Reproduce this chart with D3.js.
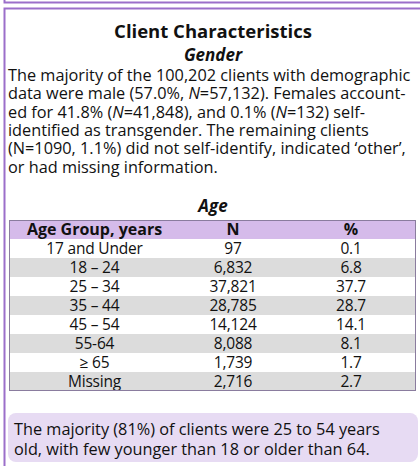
<!DOCTYPE html>
<html lang="en">
  <head>
    <meta charset="utf-8" />
    <title>Client Characteristics</title>
    <script src="https://d3js.org/d3.v7.min.js"></script>
    <style>
      body { margin: 0; background: #fff; }
      svg text { font-family: "Open Sans", "Noto Sans", sans-serif; fill: #111; }
    </style>
  </head>
  <body>
    <script>
      // values
      var title = "Client Characteristics";
      var genderHeading = "Gender";
      var ageHeading = "Age";

      // each line is a list of [text, italic?] pieces
      var genderLines = [
        [["The majority of the 100,202 clients with demographic", false]],
        [["data were male (57.0%, ", false], ["N", true], ["=57,132). Females account-", false]],
        [["ed for 41.8% (", false], ["N", true], ["=41,848), and 0.1% (", false], ["N", true], ["=132) self-", false]],
        [["identified as transgender. The remaining clients", false]],
        [["(N=1090, 1.1%) did not self-identify, indicated \u2018other\u2019,", false]],
        [["or had missing information.", false]]
      ];

      var columns = ["Age Group, years", "N", "%"];
      var ageGroups = ["17 and Under", "18 \u2013 24", "25 \u2013 34", "35 \u2013 44", "45 \u2013 54", "55-64", "\u2265 65", "Missing"];
      var counts = [97, 6832, 37821, 28785, 14124, 8088, 1739, 2716];
      var percents = [0.1, 6.8, 37.7, 28.7, 14.1, 8.1, 1.7, 2.7];

      var calloutLines = [
        "The majority (81%) of clients were 25 to 54 years",
        "old, with few younger than 18 or older than 64."
      ];

      var width = 420;
      var height = 466;
      var purple = "#9b6fca";
      var headerFill = "#d5bbea";
      var stripeFill = "#dcdcdc";
      var calloutFill = "#e7dbf3";

      var svg = d3.select("body")
        .append("svg")
        .attr("width", width)
        .attr("height", height);

      // bottom of the box above
      svg.append("path")
        .attr("d", "M4.5,0 V2.5 H" + (width + 5))
        .attr("fill", "none")
        .attr("stroke", purple)
        .attr("stroke-width", 2);

      // box of this panel (runs off right and bottom)
      svg.append("rect")
        .attr("x", 4.5)
        .attr("y", 8.5)
        .attr("width", width + 20)
        .attr("height", height + 20)
        .attr("fill", "none")
        .attr("stroke", purple)
        .attr("stroke-width", 2);

      var cx = 213;

      svg.append("text")
        .attr("x", cx)
        .attr("y", 38)
        .attr("text-anchor", "middle")
        .style("font-size", "18.5px")
        .style("font-weight", "700")
        .text(title);

      svg.append("text")
        .attr("x", cx)
        .attr("y", 61)
        .attr("text-anchor", "middle")
        .style("font-size", "17px")
        .style("font-weight", "700")
        .style("font-style", "italic")
        .text(genderHeading);

      var lineY = d3.scaleLinear().domain([0, 1]).range([81, 99.3]);

      var para = svg.append("g").style("font-size", "16.3px");
      genderLines.forEach(function (pieces, i) {
        var t = para.append("text").attr("x", 8).attr("y", lineY(i));
        pieces.forEach(function (p) {
          t.append("tspan").style("font-style", p[1] ? "italic" : null).text(p[0]);
        });
      });

      svg.append("text")
        .attr("x", cx)
        .attr("y", 212)
        .attr("text-anchor", "middle")
        .style("font-size", "17px")
        .style("font-weight", "700")
        .style("font-style", "italic")
        .text(ageHeading);

      // table
      var rows = ["header"].concat(ageGroups);
      var y = d3.scaleBand().domain(rows).range([220, 391]);
      var colEdge = d3.scaleLinear().domain([0, 1, 2, 3]).range([9, 180, 286, 416]);
      var colMid = function (j) { return (colEdge(j) + colEdge(j + 1)) / 2; };
      var fmtN = d3.format(",");
      var fmtP = d3.format(".1f");

      var table = svg.append("g");

      table.selectAll("rect.row")
        .data(rows)
        .join("rect")
        .attr("class", "row")
        .attr("x", colEdge(0))
        .attr("y", function (d) { return y(d); })
        .attr("width", colEdge(3) - colEdge(0))
        .attr("height", y.bandwidth())
        .attr("fill", function (d, i) {
          if (i === 0) return headerFill;
          return i % 2 === 0 ? stripeFill : "#fff";
        });

      table.append("g")
        .selectAll("text")
        .data(columns)
        .join("text")
        .attr("x", function (d, j) { return colMid(j); })
        .attr("y", y("header") + y.bandwidth() / 2)
        .attr("dy", "0.36em")
        .attr("text-anchor", "middle")
        .style("font-size", "16px")
        .style("font-weight", "700")
        .text(function (d) { return d; });

      var cells = ageGroups.map(function (g, i) {
        return [g, fmtN(counts[i]), fmtP(percents[i])];
      });

      table.append("g")
        .selectAll("g")
        .data(cells)
        .join("g")
        .each(function (row, i) {
          d3.select(this).selectAll("text")
            .data(row)
            .join("text")
            .attr("x", function (d, j) { return colMid(j); })
            .attr("y", y(ageGroups[i]) + y.bandwidth() / 2)
            .attr("dy", "0.36em")
            .attr("text-anchor", "middle")
            .style("font-size", "15.5px")
            .style("letter-spacing", "-0.2px")
            .text(function (d) { return d; });
        });

      table.append("rect")
        .attr("x", colEdge(0) + 0.5)
        .attr("y", 220.5)
        .attr("width", colEdge(3) - colEdge(0) - 1)
        .attr("height", 391 - 220 - 1)
        .attr("fill", "none")
        .attr("stroke", "#8a7c9e")
        .attr("stroke-width", 1);

      // callout
      svg.append("rect")
        .attr("x", 8)
        .attr("y", 413)
        .attr("width", 410)
        .attr("height", 49)
        .attr("rx", 8)
        .attr("fill", calloutFill);

      svg.append("g")
        .style("font-size", "16.3px")
        .selectAll("text")
        .data(calloutLines)
        .join("text")
        .attr("x", 14)
        .attr("y", function (d, i) { return 435 + i * 19.5; })
        .text(function (d) { return d; });
    </script>
  </body>
</html>
